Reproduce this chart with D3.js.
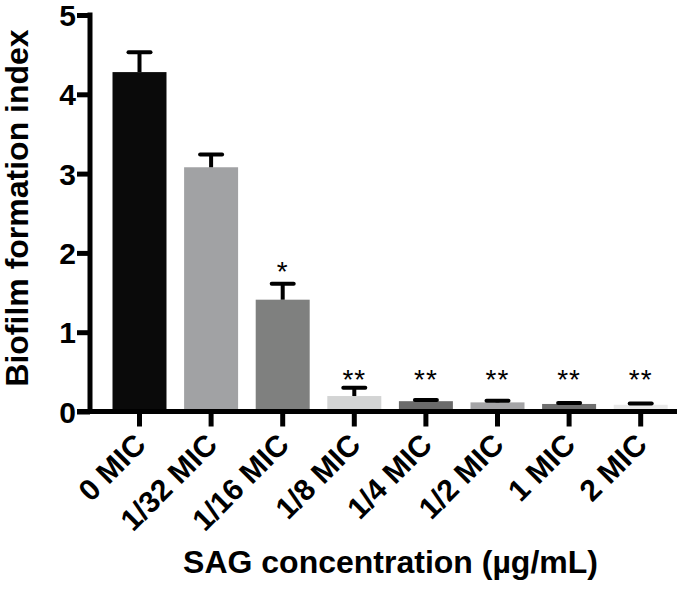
<!DOCTYPE html>
<html>
<head>
<meta charset="utf-8">
<script src="https://cdn.jsdelivr.net/npm/d3@7/dist/d3.min.js"></script>
<style>
  html, body { margin: 0; padding: 0; background: #fff; }
  svg { display: block; }
  text { font-family: "Liberation Sans", Arial, Helvetica, sans-serif; }
</style>
</head>
<body>
<svg id="chart" width="692" height="589"></svg>
<script>
// ---- data ----
const categories = ["0 MIC", "1/32 MIC", "1/16 MIC", "1/8 MIC", "1/4 MIC", "1/2 MIC", "1 MIC", "2 MIC"];
const means      = [4.28, 3.08, 1.41, 0.195, 0.13, 0.115, 0.095, 0.085];
const upperError = [4.53, 3.24, 1.61, 0.30, 0.145, 0.137, 0.108, 0.10];
const significance = ["", "", "*", "**", "**", "**", "**", "**"];
const barColors  = ["#0a0a0a", "#a1a2a4", "#7f807f", "#d3d4d4", "#6b6b6b", "#a4a4a6", "#6f6f6f", "#e9e9e9"];
const yTicks     = [0, 1, 2, 3, 4, 5];
const yTitle = "Biofilm formation index";
const xTitle = "SAG concentration (µg/mL)";

// ---- layout ----
const svg = d3.select("#chart");
const y = d3.scaleLinear().domain([0, 5]).range([411.5, 15]);
const x = d3.scaleBand().domain(categories).range([103.7, 676.5])
  .paddingInner(0.246).paddingOuter(0.123);

// bars
svg.append("g").selectAll("rect").data(categories).join("rect")
  .attr("x", d => x(d))
  .attr("width", x.bandwidth())
  .attr("y", (d, i) => y(means[i]))
  .attr("height", (d, i) => y(0) - y(means[i]))
  .attr("fill", (d, i) => barColors[i]);

// error bars
const eb = svg.append("g").attr("stroke", "#000").attr("stroke-linecap", "round");
categories.forEach((c, i) => {
  const cx = x(c) + x.bandwidth() / 2;
  eb.append("line").attr("x1", cx).attr("x2", cx)
    .attr("y1", y(means[i])).attr("y2", y(upperError[i]))
    .attr("stroke-width", 4).attr("stroke-linecap", "butt");
  eb.append("line").attr("x1", cx - 11).attr("x2", cx + 11)
    .attr("y1", y(upperError[i])).attr("y2", y(upperError[i]))
    .attr("stroke-width", 4);
});

// significance stars
svg.append("g").selectAll("text").data(categories).join("text")
  .attr("x", d => x(d) + x.bandwidth() / 2)
  .attr("y", (d, i) => significance[i] === "*" ? 281 : 389)
  .attr("text-anchor", "middle")
  .attr("font-size", 28)
  .attr("font-weight", 300)
  .attr("letter-spacing", 1)
  .attr("fill", "#000")
  .text((d, i) => significance[i]);

// y axis
const yAxis = svg.append("g").attr("transform", "translate(90,0)")
  .call(d3.axisLeft(y).tickValues(yTicks).tickFormat(d3.format("d")).tickSize(13).tickSizeOuter(0).tickPadding(1));
yAxis.select(".domain").attr("stroke-width", 5).attr("d", `M0,${y(5) - 2.5}V${y(0) + 2.5}`);
yAxis.selectAll(".tick line").attr("stroke-width", 5);
yAxis.selectAll(".tick text").attr("font-size", 30).attr("font-weight", "bold")
  .attr("font-family", "'Liberation Sans', Arial, sans-serif").attr("fill", "#000")
  .attr("dy", "0.35em");

// x axis
const xAxis = svg.append("g").attr("transform", `translate(0,${y(0)})`)
  .call(d3.axisBottom(x).tickSize(15).tickSizeOuter(0));
xAxis.select(".domain").attr("stroke-width", 5).attr("d", `M77,0H677`);
xAxis.selectAll(".tick line").attr("stroke-width", 5);
xAxis.selectAll(".tick text")
  .attr("font-size", 30).attr("font-weight", "bold")
  .attr("font-family", "'Liberation Sans', Arial, sans-serif").attr("fill", "#000")
  .attr("text-anchor", "end")
  .attr("y", 0).attr("dy", 0)
  .attr("transform", "translate(8,35) rotate(-45)");

// titles
svg.append("text")
  .attr("transform", "translate(28,208) rotate(-90)")
  .attr("text-anchor", "middle")
  .attr("font-size", 32).attr("font-weight", "bold")
  .text(yTitle);

svg.append("text")
  .attr("x", 390.5).attr("y", 573)
  .attr("text-anchor", "middle")
  .attr("font-size", 32).attr("font-weight", "bold")
  .text(xTitle);
</script>
</body>
</html>
